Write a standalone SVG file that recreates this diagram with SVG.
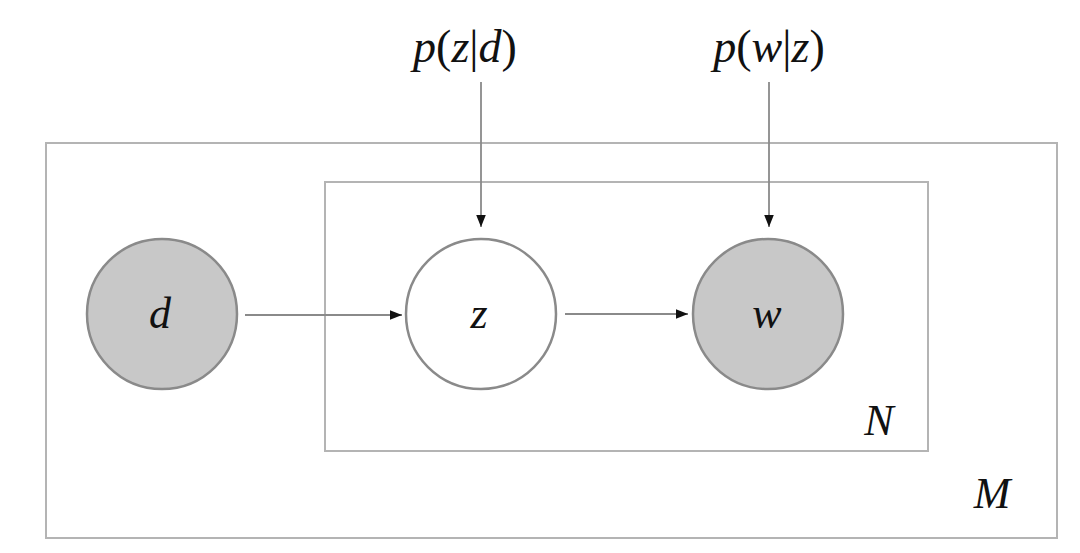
<svg xmlns="http://www.w3.org/2000/svg" width="1080" height="553" viewBox="0 0 1080 553">
<defs>
<style>
.plate{fill:none;stroke:#b4b4b4;stroke-width:2}
.obs{fill:#c8c8c8;stroke:#8a8a8a;stroke-width:2.5}
.lat{fill:#ffffff;stroke:#8a8a8a;stroke-width:2.5}
.edge{stroke:#8a8a8a;stroke-width:1.8;fill:none}
.lbl{font-family:"Liberation Serif","Times New Roman",serif;font-size:44px;fill:#111;font-style:italic}
.top{font-size:46px}
.up{font-style:normal}
</style>
<marker id="ah" viewBox="0 0 10 10" refX="10" refY="5" markerWidth="12" markerHeight="12" markerUnits="userSpaceOnUse" orient="auto">
<path d="M0,1 L10,5 L0,9 Z" fill="#111"/>
</marker>
</defs>
<rect width="1080" height="553" fill="#ffffff"/>
<g id="plate-M">
<rect class="plate" x="46" y="143" width="1011" height="395"/>
<text class="lbl" x="992" y="508" text-anchor="middle">M</text>
</g>
<g id="plate-N">
<rect class="plate" x="325" y="182" width="603" height="269"/>
<text class="lbl" x="879" y="435" text-anchor="middle">N</text>
</g>
<g id="connectors">
<line class="edge" x1="245" y1="315" x2="402" y2="315" marker-end="url(#ah)"/>
<line class="edge" x1="565" y1="314" x2="688" y2="314" marker-end="url(#ah)"/>
<line class="edge" x1="481" y1="82" x2="481" y2="227" marker-end="url(#ah)"/>
<line class="edge" x1="769" y1="82" x2="769" y2="227" marker-end="url(#ah)"/>
</g>
<g id="node-d">
<circle class="obs" cx="162" cy="314" r="75"/>
<text class="lbl" x="160" y="328" text-anchor="middle">d</text>
</g>
<g id="node-z">
<circle class="lat" cx="481" cy="314" r="75"/>
<text class="lbl" x="479" y="328" text-anchor="middle">z</text>
</g>
<g id="node-w">
<circle class="obs" cx="768" cy="314" r="75"/>
<text class="lbl" x="767" y="328" text-anchor="middle">w</text>
</g>
<g id="label-pzd">
<text class="lbl top" x="465" y="62" text-anchor="middle">p<tspan class="up">(</tspan>z<tspan class="up">|</tspan>d<tspan class="up">)</tspan></text>
</g>
<g id="label-pwz">
<text class="lbl top" x="769" y="62" text-anchor="middle">p<tspan class="up">(</tspan>w<tspan class="up">|</tspan>z<tspan class="up">)</tspan></text>
</g>
</svg>
